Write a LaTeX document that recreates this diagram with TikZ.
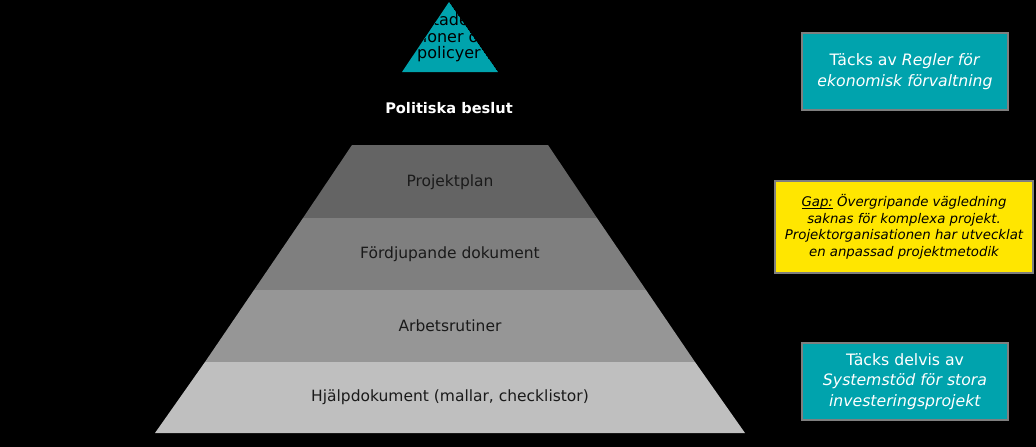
\documentclass[tikz,border=0pt]{standalone}
\usepackage{fontspec}
\setmainfont{DejaVu Sans}
\usepackage{xcolor}
\usetikzlibrary{positioning}

\definecolor{eyteal}{HTML}{00A3AD}
\definecolor{eyyellow}{HTML}{FFE600}
\definecolor{frame}{HTML}{7F7F7F}
\definecolor{lvlA}{HTML}{646464}
\definecolor{lvlB}{HTML}{7F7F7F}
\definecolor{lvlC}{HTML}{969696}
\definecolor{lvlD}{HTML}{BFBFBF}
\definecolor{ink}{HTML}{1A1A1A}

\newcommand\gapline[1]{\setbox0\hbox{#1}\rlap{\rule[-1.6pt]{\wd0}{0.7pt}}\box0\relax}

\begin{document}
\begin{tikzpicture}[x=1pt, y=-1pt,
  level/.style={text=ink, font=\fontsize{15.5}{18}\selectfont, align=center},
  note/.style={draw=frame, line width=1.5pt, fill=eyteal, text=white, minimum width=206pt, minimum height=77pt, align=center, font=\fontsize{15.7}{20.5}\selectfont},
  gap/.style={draw=frame, line width=1.5pt, fill=eyyellow, text=black, minimum width=258pt, minimum height=92pt, align=center, font=\fontsize{13.3}{16.5}\selectfont\itshape}
]
\fill[black] (0,0) rectangle (1036,447);
\useasboundingbox (0,0) rectangle (1036,447);

\begin{scope}
\clip (449,2) -- (498,72) -- (402,72) -- cycle;
\fill[eyteal] (449,2) -- (498,72) -- (402,72) -- cycle;
\node[text=black, align=center, font=\fontsize{16}{16.5}\selectfont] (top) at (449,37) {Beslutade mål,\\visioner och\\policyer};
\end{scope}

\node[text=white, font=\fontsize{14.6}{17}\selectfont\bfseries] (pol) at (449,108) {Politiska beslut};

\fill[lvlA] (352,145) -- (548,145) -- (597,218) -- (303,218) -- cycle;
\fill[lvlB] (303,218) -- (597,218) -- (646,290) -- (254,290) -- cycle;
\fill[lvlC] (254,290) -- (646,290) -- (695,362) -- (205,362) -- cycle;
\fill[lvlD] (205,362) -- (695,362) -- (745,433) -- (155,433) -- cycle;

\node[level] (plan) at (450,182) {Projektplan};
\node[level] (fdok) at (450,254) {Fördjupande dokument};
\node[level] (arb)  at (450,326) {Arbetsrutiner};
\node[level] (hjd)  at (450,397) {Hjälpdokument (mallar, checklistor)};

\node[note] (regler) at (905,71.5) {Täcks av \textit{Regler för}\\\textit{ekonomisk förvaltning}};
\node[gap]  (gapbox) at (904,227)  {\gapline{Gap:} Övergripande vägledning\\saknas för komplexa projekt.\\Projektorganisationen har utvecklat\\en anpassad projektmetodik};
\node[note] (system) at (905,381.5) {Täcks delvis av\\\textit{Systemstöd för stora}\\\textit{investeringsprojekt}};

\end{tikzpicture}
\end{document}
